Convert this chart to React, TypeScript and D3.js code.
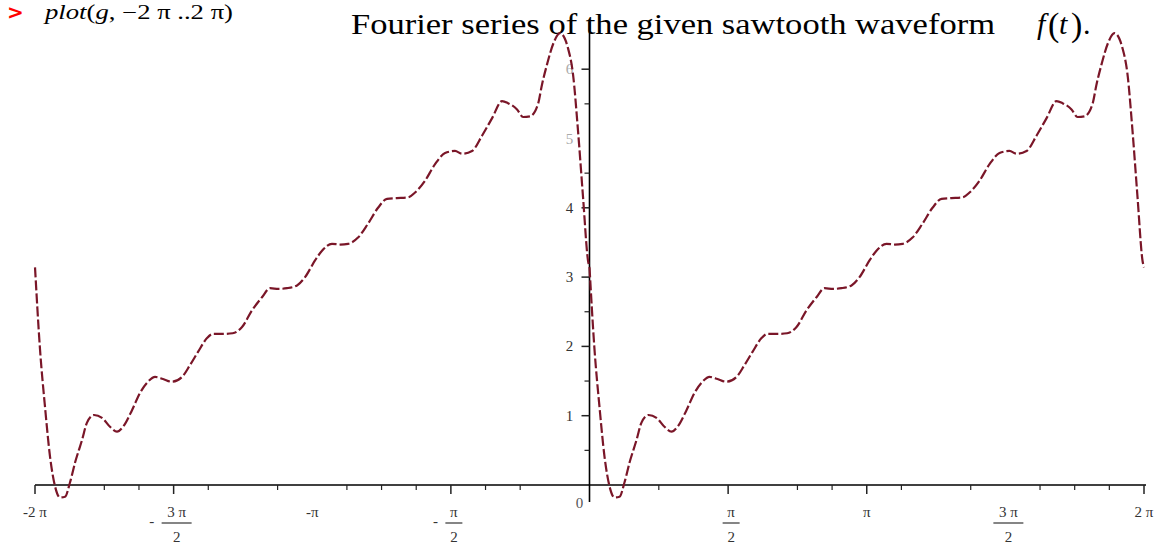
import React from "react";
import * as d3 from "d3";

const PI = Math.PI;

// One period of the curve read on the right half (t in [0, 2π])
const rightSeries: [number, number][] = [
  [0, 3.14], [0.057, 1.95], [0.113, 1.13], [0.17, 0.41], [0.227, -0.02], [0.283, -0.18],
  [0.34, -0.17], [0.397, 0.04], [0.453, 0.32], [0.533, 0.65], [0.589, 0.9], [0.669, 1.01],
  [0.759, 0.97], [0.85, 0.84], [0.929, 0.77], [0.997, 0.84], [1.099, 1.08], [1.19, 1.33],
  [1.28, 1.49], [1.36, 1.56], [1.45, 1.53], [1.55, 1.49], [1.666, 1.56], [1.756, 1.73],
  [1.847, 1.92], [1.949, 2.12], [2.017, 2.18], [2.13, 2.18], [2.24, 2.19], [2.346, 2.28],
  [2.459, 2.52], [2.572, 2.71], [2.663, 2.84], [2.76, 2.83], [2.856, 2.84], [2.969, 2.88],
  [3.06, 3.0], [3.173, 3.24], [3.252, 3.38], [3.365, 3.48], [3.46, 3.47], [3.547, 3.48],
  [3.66, 3.57], [3.773, 3.77], [3.887, 4.0], [3.989, 4.13], [4.1, 4.14], [4.227, 4.15],
  [4.306, 4.22], [4.419, 4.39], [4.533, 4.63], [4.646, 4.79], [4.759, 4.82], [4.839, 4.78],
  [4.952, 4.82], [5.065, 5.04], [5.178, 5.29], [5.292, 5.54], [5.36, 5.51], [5.462, 5.42],
  [5.53, 5.31], [5.609, 5.32], [5.7, 5.5], [5.745, 5.78], [5.802, 6.07], [5.87, 6.36],
  [5.949, 6.52], [6.04, 6.3], [6.096, 5.93], [6.153, 5.11], [6.21, 4.15], [6.266, 3.24],
  [6.283, 3.14],
];

// Left half read on t in [-2π, 0]
const leftSeries: [number, number][] = [
  [-6.283, 3.14], [-6.226, 1.95], [-6.17, 1.13], [-6.113, 0.41], [-6.056, -0.02], [-6.0, -0.18],
  [-5.943, -0.17], [-5.886, 0.04], [-5.83, 0.32], [-5.75, 0.65], [-5.694, 0.9], [-5.614, 1.01],
  [-5.524, 0.97], [-5.433, 0.84], [-5.354, 0.77], [-5.286, 0.84], [-5.184, 1.08], [-5.093, 1.33],
  [-5.003, 1.49], [-4.923, 1.56], [-4.833, 1.53], [-4.733, 1.49], [-4.617, 1.56], [-4.527, 1.73],
  [-4.436, 1.92], [-4.334, 2.12], [-4.266, 2.18], [-4.153, 2.18], [-4.043, 2.19], [-3.937, 2.28],
  [-3.824, 2.52], [-3.711, 2.71], [-3.62, 2.84], [-3.523, 2.83], [-3.427, 2.84], [-3.314, 2.88],
  [-3.223, 3.0], [-3.11, 3.24], [-3.031, 3.38], [-2.918, 3.48], [-2.823, 3.47], [-2.736, 3.48],
  [-2.623, 3.57], [-2.51, 3.77], [-2.396, 4.0], [-2.294, 4.13], [-2.183, 4.14], [-2.056, 4.15],
  [-1.977, 4.22], [-1.864, 4.39], [-1.75, 4.63], [-1.637, 4.79], [-1.524, 4.82], [-1.444, 4.78],
  [-1.331, 4.82], [-1.218, 5.04], [-1.105, 5.29], [-0.991, 5.54], [-0.923, 5.51], [-0.821, 5.42],
  [-0.753, 5.31], [-0.674, 5.32], [-0.583, 5.5], [-0.538, 5.78], [-0.481, 6.07], [-0.413, 6.36],
  [-0.334, 6.52], [-0.243, 6.3], [-0.187, 5.93], [-0.13, 5.11], [-0.073, 4.15], [-0.017, 3.24],
  [0, 3.14],
];

// Ticks on the t axis in units of π/8
const xMajorTicks = [-16, -12, -4, 4, 8, 16];
const xMinorTicks = [-14, -13, -11, -9, -7, -6, -5, -3, -2, 2, 6, 7, 9, 11, 13, 14, 15];

// Tick labels on the t axis: value in units of π/8, numerator, denominator, sign
const xLabelValues = [-16, -12, -8, -4, 4, 8, 12, 16];
const xLabelNums = ["2 π", "3 π", "π", "π", "π", "π", "3 π", "2 π"];
const xLabelDens = ["", "2", "", "2", "2", "", "2", ""];
const xLabelNeg = [true, true, true, true, false, false, false, false];

const yMajorTicks = [1, 2, 3, 4, 6];
const yMinorTicks = [0.5, 1.5, 2.5, 4.5, 5.5];
const yLabels = [1, 2, 3, 4, 5, 6];
const yLabelFaint = [false, false, false, false, true, true];

const TITLE = "Fourier series of the given sawtooth waveform";

export default function App() {
  const W = 1156, H = 549;
  const x = d3.scaleLinear().domain([-2 * PI, 2 * PI]).range([35, 1144]);
  const y = d3.scaleLinear().domain([0, 1]).range([485, 415.7]);
  const x0 = x(0), y0 = y(0);
  const line = d3.line<[number, number]>()
    .x((d) => x(d[0]))
    .y((d) => y(d[1]))
    .curve(d3.curveMonotoneX);
  const curveColor = "#7a1628";
  const tickColor = "#222";
  const labelFont = "'Liberation Serif', 'Times New Roman', serif";

  return (
    <svg width={W} height={H} style={{ position: "absolute", left: 0, top: 0, background: "#fff" }}
      xmlns="http://www.w3.org/2000/svg">
      {/* Maple command line */}
      <text x={7} y={19} fill="#ff0000" fontFamily="'DejaVu Sans', sans-serif" fontWeight="bold" fontSize={20}>&gt;</text>
      <text x={45} y={19} fontFamily={labelFont} fontSize={20} fill="#000" textLength={188} lengthAdjust="spacingAndGlyphs">
        <tspan fontStyle="italic">plot</tspan>
        <tspan>(</tspan>
        <tspan fontStyle="italic">g</tspan>
        <tspan>, −2 π ..2 π)</tspan>
      </text>

      {/* Title */}
      <text x={351} y={34} fontFamily={labelFont} fontSize={30} fill="#000" textLength={644} lengthAdjust="spacingAndGlyphs">
        {TITLE}
      </text>
      <text y={34} fontFamily={labelFont} fontSize={30} fill="#000">
        <tspan x={1037} fontStyle="italic">f</tspan>
        <tspan x={1048} fontSize={34} dy={2}>(</tspan>
        <tspan x={1059} fontStyle="italic" dy={-2}>t</tspan>
        <tspan x={1071} fontSize={34} dy={2}>)</tspan>
        <tspan x={1083} dy={-2}>.</tspan>
      </text>

      {/* Axes */}
      <line x1={x(-2 * PI)} x2={x(2 * PI) + 2} y1={y0} y2={y0} stroke="#000" strokeWidth={1.6} />
      <line x1={x0} x2={x0} y1={22} y2={502} stroke="#000" strokeWidth={1.6} />

      {xMajorTicks.map((k) => (
        <line key={"xM" + k} x1={x((k * PI) / 8)} x2={x((k * PI) / 8)} y1={y0} y2={y0 + 9}
          stroke={tickColor} strokeWidth={1.5} />
      ))}
      {xMinorTicks.map((k) => (
        <line key={"xm" + k} x1={x((k * PI) / 8)} x2={x((k * PI) / 8)} y1={y0} y2={y0 + 5}
          stroke={tickColor} strokeWidth={1.2} />
      ))}
      {yMajorTicks.map((v) => (
        <line key={"yM" + v} x1={x0 - 8} x2={x0} y1={y(v)} y2={y(v)} stroke={tickColor} strokeWidth={1.5} />
      ))}
      {yMinorTicks.map((v) => (
        <line key={"ym" + v} x1={x0 - 5} x2={x0} y1={y(v)} y2={y(v)} stroke={tickColor} strokeWidth={1.2} />
      ))}

      {/* y labels */}
      {yLabels.map((v, i) => (
        <text key={"yl" + v} x={x0 - 20} y={y(v) + 5} textAnchor="middle" fontFamily={labelFont}
          fontSize={15} fill={yLabelFaint[i] ? "#aaa" : "#333"}>{v}</text>
      ))}
      <text x={x0 - 10} y={y0 + 23} textAnchor="middle" fontFamily={labelFont} fontSize={15} fill="#555">0</text>

      {/* x labels */}
      {xLabelValues.map((k, i) => {
        const cx = x((k * PI) / 8);
        const num = xLabelNums[i];
        const den = xLabelDens[i];
        if (!den) {
          return (
            <text key={"xl" + k} x={cx} y={y0 + 32} textAnchor="middle" fontFamily={labelFont}
              fontSize={15} fill="#333">{(xLabelNeg[i] ? "-" : "") + num}</text>
          );
        }
        const bw = num.length > 1 ? 30 : 17;
        return (
          <g key={"xl" + k}>
            {xLabelNeg[i] && (
              <text x={cx - bw / 2 - 7} y={y0 + 41} textAnchor="middle" fontFamily={labelFont}
                fontSize={15} fill="#333">-</text>
            )}
            <text x={cx + 3} y={y0 + 32} textAnchor="middle" fontFamily={labelFont} fontSize={15} fill="#333">{num}</text>
            <line x1={cx + 3 - bw / 2} x2={cx + 3 + bw / 2} y1={y0 + 38} y2={y0 + 38} stroke="#333" strokeWidth={1.2} />
            <text x={cx + 3} y={y0 + 57} textAnchor="middle" fontFamily={labelFont} fontSize={15} fill="#333">{den}</text>
          </g>
        );
      })}

      {/* Curve */}
      <path d={line(leftSeries) || ""} fill="none" stroke={curveColor} strokeWidth={2.2}
        strokeDasharray="10,3" strokeLinejoin="round" />
      <path d={line(rightSeries) || ""} fill="none" stroke={curveColor} strokeWidth={2.2}
        strokeDasharray="10,3" strokeLinejoin="round" />
    </svg>
  );
}
